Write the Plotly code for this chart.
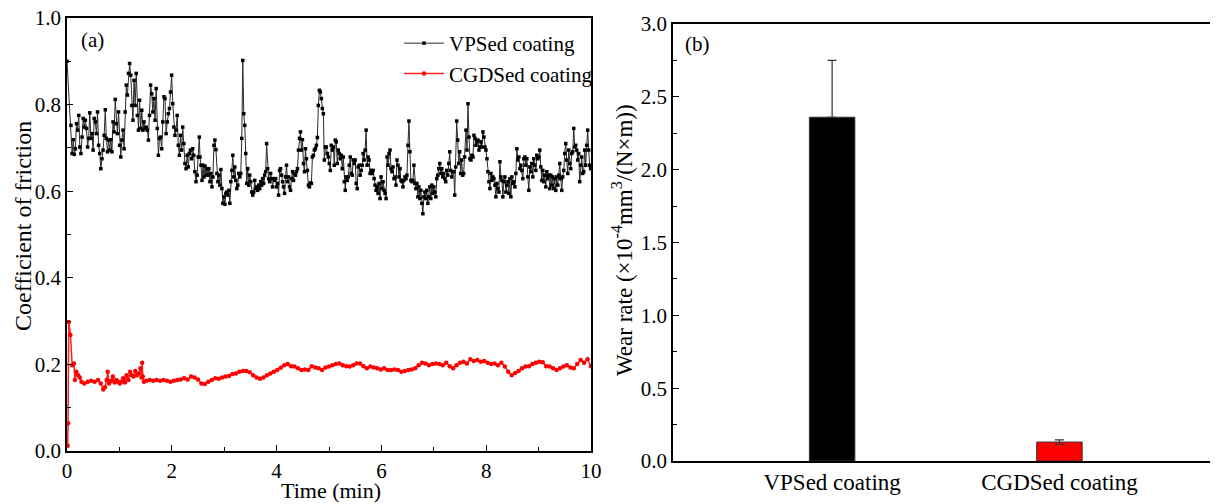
import numpy as np
import plotly.graph_objects as go

# ---------------- data: (a) coefficient of friction vs time ----------------
vps_t0 = [0.0]
vps_v0 = [0.90]
vps_v1 = [0.752,0.687,0.719,0.685,0.698,0.756,0.741,0.775,0.702,0.687,
0.725,0.768,0.748,0.764,0.745,0.702,0.722,0.781,0.722,0.733,
0.695,0.768,0.760,0.733,0.783,0.706,0.687,0.652,0.675,0.695,
0.729,0.788,0.722,0.691,0.718,0.695,0.719,0.691,0.760,0.737,
0.812,0.756,0.733,0.783,0.706,0.679,0.718,0.741,0.698,0.783,
0.845,0.822,0.872,0.895,0.868,0.798,0.764,0.856,0.798,0.872,
0.775,0.741,0.810,0.745,0.787,0.741,0.760,0.745,0.748,0.741,
0.718,0.775,0.845,0.825,0.783,0.814,0.764,0.837,0.745,0.683,
0.722,0.725,0.698,0.760,0.818,0.814,0.733,0.760,0.779,0.791,
0.829,0.868,0.802,0.748,0.729,0.741,0.775,0.706,0.683,0.729,
0.695,0.748,0.710,0.664,0.652,0.683,0.656,0.687,0.695,0.675,
0.698,0.683,0.645,0.622,0.637,0.679,0.725]
vps_v2 = [0.679,0.660,0.625,0.660,0.633,0.658,0.637,0.652,0.637,0.652,
0.622,0.641,0.610,0.633,0.706,0.718,0.696,0.641,0.622,0.637,
0.614,0.650,0.606,0.572,0.587,0.570,0.595,0.598,0.591,0.602,
0.572,0.622,0.648,0.683,0.633,0.656,0.625,0.606,0.614,0.641,
0.633,0.641,0.722,0.902,0.779,0.752,0.687,0.618,0.652,0.614,
0.637,0.622,0.598,0.591,0.598,0.625,0.606,0.610,0.602,0.614,
0.606,0.622,0.614,0.629,0.618,0.637,0.645,0.710,0.652,0.629,
0.622,0.641,0.629,0.610,0.629,0.625,0.629,0.610,0.618,0.591,
0.648,0.652,0.637,0.622,0.610,0.595,0.633,0.660,0.622,0.633,
0.610,0.602,0.629,0.645,0.625,0.641,0.637,0.645,0.652,0.695,
0.722,0.737,0.695,0.719,0.664,0.645,0.698,0.675,0.648,0.614,
0.610,0.619,0.618,0.679,0.683,0.695,0.698,0.706,0.724,0.798,
0.833,0.829,0.814,0.791,0.779,0.672,0.702,0.702,0.687,0.679,
0.664,0.648,0.706,0.695]
vps_v3 = [0.702,0.660,0.718,0.714,0.664,0.695,0.687,0.675,0.683,0.652,
0.679,0.622,0.602,0.633,0.625,0.633,0.660,0.679,0.641,0.637,
0.672,0.664,0.672,0.618,0.606,0.656,0.660,0.637,0.648,0.660,
0.687,0.672,0.695,0.741,0.660,0.679,0.672,0.641,0.648,0.641,
0.648,0.629,0.614,0.602,0.610,0.595,0.618,0.583,0.633,0.606,
0.622,0.602,0.595,0.583,0.679,0.660,0.687,0.695,0.652,0.645,
0.656,0.629,0.633,0.614,0.672,0.660,0.633,0.652,0.625,0.622,
0.610,0.625,0.633,0.629,0.637,0.706,0.762,0.691,0.625,0.622,
0.625,0.660,0.618,0.606,0.618,0.587,0.610,0.583,0.602,0.572,
0.548,0.587,0.598,0.583,0.602,0.572,0.587,0.610,0.583,0.614,
0.595,0.610,0.598,0.587,0.629,0.637,0.652,0.664,0.641,0.652,
0.633,0.641,0.629,0.622,0.648,0.637,0.664,0.691,0.648,0.633,
0.645,0.645,0.591,0.656,0.762,0.718,0.664,0.691,0.641,0.672,
0.637,0.641,0.679]
vps_v4 = [0.741,0.695,0.802,0.725,0.675,0.672,0.683,0.679,0.729,0.722,
0.706,0.714,0.718,0.695,0.702,0.714,0.702,0.737,0.725,0.702,
0.695,0.675,0.645,0.622,0.606,0.641,0.625,0.633,0.629,0.614,
0.587,0.618,0.606,0.598,0.668,0.633,0.625,0.587,0.622,0.633,
0.598,0.614,0.622,0.595,0.629,0.587,0.633,0.618,0.622,0.610,
0.641,0.698,0.672,0.679,0.652,0.660,0.648,0.629,0.675,0.679,
0.660,0.675,0.633,0.602,0.656,0.645,0.664,0.633,0.675,0.660,
0.648,0.683,0.675,0.679,0.695,0.656,0.625,0.648,0.622,0.637,
0.610,0.645,0.629,0.637,0.606,0.637,0.614,0.633,0.606,0.629,
0.602,0.633,0.614,0.637,0.664,0.629,0.602,0.633,0.648,0.687,
0.710,0.672,0.641,0.695,0.664,0.652,0.687,0.691,0.745,0.702,
0.706,0.695,0.672,0.687,0.622,0.660,0.679,0.641,0.645,0.695,
0.660,0.706,0.741,0.695,0.660,0.652]
# sampling-time spans (min) of each block above
vps_spans = [(0.076, 2.525), (2.538, 5.063), (5.082, 7.589), (7.614, 9.994)]

cgds_t1 = [0.013,0.02,0.033,0.066,0.099,0.132,0.151,0.178,0.211,0.243,
0.276,0.329,0.395,0.461,0.526,0.592,0.645,0.691,0.724,0.757,
0.776,0.803,0.842,0.875,0.908,0.941,0.974,1.007,1.039,1.072,
1.105,1.138,1.171,1.204,1.237,1.270,1.303,1.336,1.368,1.401,
1.421,1.434,1.447,1.467]
cgds_v1 = [0.012,0.064,0.298,0.268,0.198,0.202,0.164,0.183,0.175,0.170,
0.160,0.156,0.160,0.162,0.160,0.164,0.156,0.142,0.147,0.164,
0.183,0.156,0.162,0.172,0.158,0.164,0.160,0.156,0.160,0.168,
0.158,0.175,0.164,0.183,0.175,0.172,0.185,0.175,0.179,0.191,
0.170,0.204,0.172,0.160]
cgds_v2 = [0.162,0.164,0.162,0.164,0.162,0.164,0.162,0.160,0.162,0.164,
0.165,0.168,0.165,0.172,0.170,0.165,0.156,0.155,0.160,0.164,
0.168,0.167,0.170,0.172,0.173,0.178,0.179,0.183,0.185,0.185,
0.182,0.175,0.170,0.167,0.170,0.175,0.179,0.183,0.187,0.192,
0.198,0.201,0.196,0.195,0.191,0.187,0.188,0.187,0.196,0.193,
0.191,0.187,0.193,0.195,0.198,0.201,0.202,0.198,0.196,0.195,
0.198,0.202,0.202,0.196,0.191,0.195,0.193,0.191,0.188,0.191,
0.187,0.187,0.188,0.187,0.183,0.185,0.187,0.188,0.191,0.198,
0.204,0.202,0.198,0.201,0.202,0.201,0.198,0.204,0.196,0.191,
0.198,0.204,0.206,0.202,0.212,0.208,0.210,0.206,0.208,0.204,
0.201,0.202,0.198,0.204,0.195,0.183,0.175,0.180,0.185,0.191,
0.195,0.196,0.201,0.204,0.206,0.205,0.196,0.195,0.191,0.187,
0.191,0.195,0.198,0.193,0.191,0.201,0.210,0.204,0.212,0.196]
cgds_span2 = (1.513, 10.0)

# ---------------- data: (b) wear rate ----------------
coatings = ["VPSed coating", "CGDSed coating"]
wear_rate = [2.36, 0.13]
wear_err_plus = [0.39, 0.015]
wear_err_minus = [0.0, 0.015]   # lower whisker of the black bar is hidden in the bar
bar_colors = ["#000000", "#ff0000"]

# ---------------- build series ----------------
vps_blocks = [vps_v1, vps_v2, vps_v3, vps_v4]
vps_t = list(vps_t0)
vps_v = list(vps_v0)
for blk, (a, b) in zip(vps_blocks, vps_spans):
    vps_t += list(np.linspace(a, b, len(blk)))
    vps_v += blk
cgds_t = list(cgds_t1) + list(np.linspace(cgds_span2[0], cgds_span2[1], len(cgds_v2)))
cgds_v = list(cgds_v1) + list(cgds_v2)

# page body has an 8px margin: figure occupies window pixels 8..1218 x 8..504
OFF = 8
W, H = 1218 - OFF, 504 - OFF


def px(x):
    return (x - OFF) / W


def py(y):
    return 1 - (y - OFF) / H


FONT = "Liberation Serif, Times New Roman, serif"
TICK = 21

fig = go.Figure()
fig.add_trace(go.Scatter(
    x=vps_t, y=vps_v, mode="lines+markers", name="VPSed coating",
    line=dict(color="#2a2a2a", width=1),
    marker=dict(color="#000000", size=3.5, symbol="square"),
    xaxis="x", yaxis="y"))
fig.add_trace(go.Scatter(
    x=cgds_t, y=cgds_v, mode="lines+markers", name="CGDSed coating",
    line=dict(color="#ff2020", width=1.5),
    marker=dict(color="#ff0000", size=4.5, symbol="circle"),
    xaxis="x", yaxis="y"))
fig.add_trace(go.Bar(
    x=coatings, y=wear_rate, width=0.2,
    marker=dict(color=bar_colors, line=dict(color="#333333", width=1)),
    error_y=dict(type="data", array=wear_err_plus, arrayminus=wear_err_minus,
                 color="#333333", thickness=1.2, width=4.5),
    showlegend=False, xaxis="x2", yaxis="y2"))

axis_common = dict(showline=True, linecolor="black", linewidth=1.5, mirror=True,
                   ticks="inside", tickcolor="black", ticklen=6, tickwidth=1.2,
                   showgrid=False, zeroline=False, automargin=False,
                   ticklabeloverflow="allow",
                   tickfont=dict(family=FONT, size=TICK, color="black"))

fig.update_layout(
    template="none",
    width=W, height=H,
    margin=dict(l=0, r=0, t=0, b=0, pad=0),
    paper_bgcolor="white", plot_bgcolor="white",
    font=dict(family=FONT, size=TICK, color="black"),
    xaxis=dict(domain=[px(67), px(591)], anchor="y", range=[0, 10], dtick=2,
               minor=dict(dtick=1, ticks="inside", ticklen=4, tickcolor="black"),
               **axis_common),
    yaxis=dict(domain=[py(451), py(18)], anchor="x", range=[0, 1], dtick=0.2,
               tickformat=".1f",
               minor=dict(dtick=0.1, ticks="inside", ticklen=4, tickcolor="black"),
               **axis_common),
    xaxis2=dict(domain=[px(673), px(1214)], anchor="y2", range=[-0.7, 1.68],
                showline=True, linecolor="black", linewidth=1.5, mirror=True,
                ticks="", showgrid=False, zeroline=False, automargin=False,
                ticklabeloverflow="allow",
                tickfont=dict(family=FONT, size=23, color="black")),
    yaxis2=dict(domain=[py(461), py(24)], anchor="x2", range=[0, 3], dtick=0.5,
                tickformat=".1f",
                minor=dict(dtick=0.25, ticks="inside", ticklen=4, tickcolor="black"),
                **axis_common),
    legend=dict(x=px(598), y=py(23), xanchor="right", yanchor="top",
                bgcolor="rgba(0,0,0,0)", borderwidth=0, itemwidth=40,
                font=dict(family=FONT, size=21, color="black")),
    bargap=0.5,
)

ann_font = dict(family=FONT, size=TICK, color="black")
fig.add_annotation(text="(a)", x=px(79), y=py(40), xref="paper", yref="paper",
                   xanchor="left", yanchor="middle", showarrow=False, font=ann_font)
fig.add_annotation(text="(b)", x=px(683), y=py(44), xref="paper", yref="paper",
                   xanchor="left", yanchor="middle", showarrow=False, font=ann_font)
fig.add_annotation(text="Time (min)", x=px(331), y=py(490), xref="paper", yref="paper",
                   xanchor="center", yanchor="middle", showarrow=False,
                   font=dict(family=FONT, size=22, color="black"))
fig.add_annotation(text="Coefficient of friction", x=px(23), y=py(226),
                   xref="paper", yref="paper", textangle=-90,
                   xanchor="center", yanchor="middle", showarrow=False,
                   font=dict(family=FONT, size=24, color="black"))
fig.add_annotation(text="Wear rate (×10<sup>-4</sup>mm<sup>3</sup>/(N×m))",
                   x=px(622), y=py(240), xref="paper", yref="paper", textangle=-90,
                   xanchor="center", yanchor="middle", showarrow=False,
                   font=dict(family=FONT, size=23, color="black"))

fig.write_html("out.html", config={"displayModeBar": False})
